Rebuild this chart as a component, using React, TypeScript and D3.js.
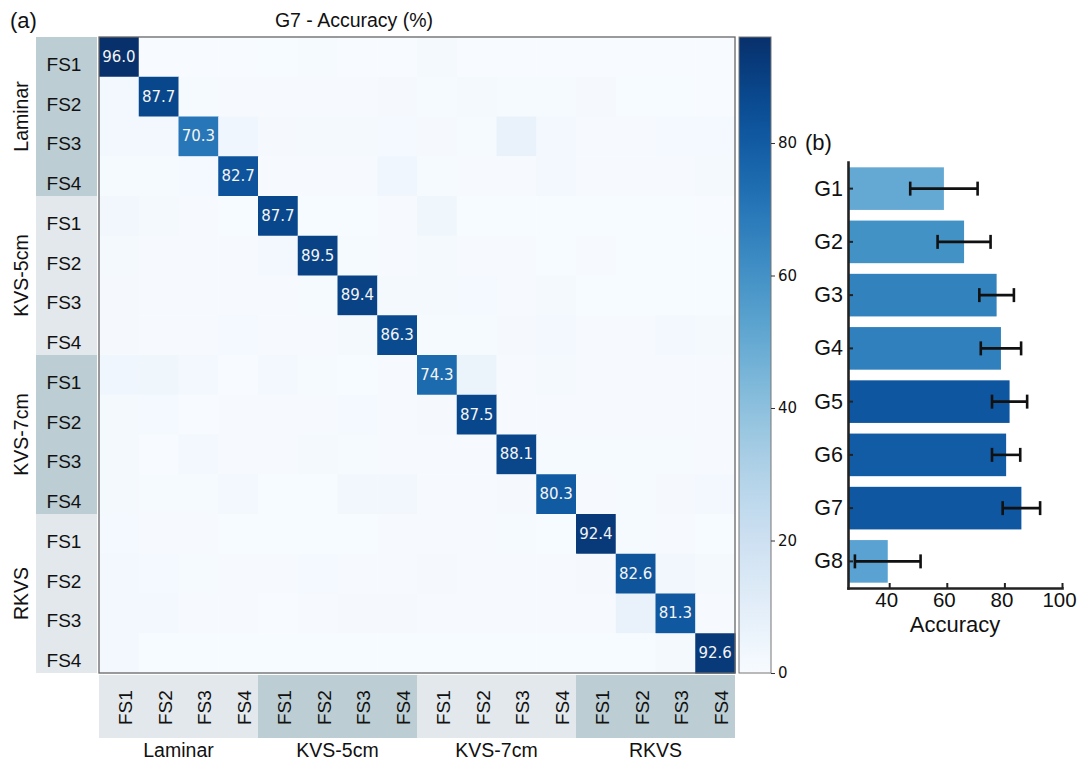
import React, { useEffect, useRef } from 'react';
import * as d3 from 'd3';

// class / flow state names
const groups = ['Laminar', 'KVS-5cm', 'KVS-7cm', 'RKVS'];
const flowStates = ['FS1', 'FS2', 'FS3', 'FS4'];

// G7 confusion matrix (%), rows = true, cols = predicted
const accuracyMatrix = [
  [96.0, 0.2, 0.1, 0.2, 0.3, 0.8, 0.2, 0.1, 1.3, 0.2, 0.1, 0.1, 0.2, 0.1, 0.1, 0.0],
  [2.4, 87.7, 0.8, 0.4, 0.5, 0.5, 0.4, 1.2, 1.0, 1.5, 0.8, 0.8, 1.2, 0.3, 0.3, 0.0],
  [2.6, 2.0, 70.3, 3.4, 1.2, 1.4, 1.6, 1.8, 1.2, 1.0, 6.8, 2.0, 0.6, 0.6, 1.8, 1.7],
  [1.0, 0.8, 1.8, 82.7, 0.5, 0.5, 0.6, 3.6, 0.8, 0.4, 0.4, 2.5, 0.6, 0.6, 0.7, 1.5],
  [3.0, 1.5, 0.5, 0.3, 87.7, 0.3, 0.3, 0.4, 4.0, 0.3, 0.3, 0.3, 0.3, 0.3, 0.3, 0.2],
  [1.5, 0.5, 0.4, 0.4, 2.5, 89.5, 0.8, 0.5, 1.5, 0.4, 0.4, 0.3, 0.4, 0.3, 0.3, 0.3],
  [1.2, 0.4, 0.4, 0.4, 0.4, 0.8, 89.4, 1.5, 1.5, 1.8, 0.6, 1.5, 0.3, 0.3, 0.3, 0.3],
  [1.2, 0.5, 0.5, 1.8, 0.4, 0.4, 1.5, 86.3, 1.0, 0.8, 1.2, 2.0, 0.4, 0.4, 2.2, 1.6],
  [3.5, 3.8, 2.5, 0.2, 2.0, 0.8, 0.3, 0.5, 74.3, 5.5, 0.4, 1.5, 0.6, 0.6, 0.5, 0.5],
  [1.5, 1.8, 0.2, 0.4, 0.6, 0.6, 1.8, 0.6, 1.2, 87.5, 0.5, 0.5, 0.5, 0.4, 0.4, 0.4],
  [1.5, 0.2, 2.5, 0.4, 0.4, 1.5, 0.8, 0.6, 0.5, 0.6, 88.1, 1.0, 0.8, 0.8, 1.0, 0.6],
  [1.5, 1.0, 1.0, 2.2, 0.3, 0.3, 3.0, 3.0, 0.6, 0.6, 1.2, 80.3, 0.6, 0.8, 1.2, 2.0],
  [1.8, 0.4, 0.4, 0.3, 0.3, 0.3, 0.3, 0.4, 0.4, 0.4, 1.0, 0.3, 92.4, 1.0, 0.4, 0.3],
  [2.2, 1.8, 1.0, 0.6, 0.6, 1.8, 0.6, 0.6, 1.2, 0.5, 0.5, 0.6, 1.2, 82.6, 2.8, 1.6],
  [2.0, 2.2, 0.6, 0.6, 0.2, 0.6, 1.2, 1.2, 0.5, 0.4, 0.4, 0.4, 0.6, 6.8, 81.3, 0.6],
  [2.6, 0.3, 0.3, 0.3, 0.3, 0.3, 0.3, 0.3, 0.3, 0.3, 0.3, 0.3, 0.3, 0.3, 1.6, 92.6],
];
const colorbarTicks = [0, 20, 40, 60, 80];

// panel (b) - mean accuracy per group with std
const barGroups = ['G1', 'G2', 'G3', 'G4', 'G5', 'G6', 'G7', 'G8'];
const barMeans = [59.0, 66.0, 77.3, 78.8, 81.8, 80.6, 85.9, 39.5];
const barStds = [11.7, 9.2, 6.0, 7.0, 6.1, 4.9, 6.5, 11.4];
const accuracyTicks = [40, 60, 80, 100];

const barColors = ['#64a9d4', '#4292c6', '#3282be', '#3080bd', '#0f56a0', '#125ca6', '#0f57a1', '#5aa2d2'];
const darkBlock = '#bccdd3';
const lightBlock = '#e2e8eb';
const sans = '"Liberation Sans", Arial, sans-serif';
const dejavu = '"DejaVu Sans", sans-serif';

export default function App() {
  const svgRef = useRef<SVGSVGElement>(null);

  useEffect(() => {
    const svg = d3.select(svgRef.current);
    svg.selectAll('*').remove();

    const n = groups.length * flowStates.length;
    const idx = d3.range(n);
    const maxVal = d3.max(accuracyMatrix.flat()) as number;

    const x = d3.scaleBand<number>().domain(idx).range([99, 735]);
    const y = d3.scaleBand<number>().domain(idx).range([37, 673]);
    const color = d3.scaleSequential(d3.interpolateBlues).domain([0, maxVal]);

    // ---- heatmap (a)
    const cells = accuracyMatrix.flatMap((row, r) => row.map((v, c) => ({ r, c, v })));
    svg.append('g')
      .selectAll('rect')
      .data(cells)
      .enter().append('rect')
      .attr('x', d => x(d.c)!)
      .attr('y', d => y(d.r)!)
      .attr('width', x.bandwidth() + 0.5)
      .attr('height', y.bandwidth() + 0.5)
      .attr('fill', d => color(d.v));

    // only the diagonal gets numbers
    svg.append('g')
      .selectAll('text')
      .data(cells.filter(d => d.r === d.c))
      .enter().append('text')
      .attr('x', d => x(d.c)! + x.bandwidth() / 2)
      .attr('y', d => y(d.r)! + y.bandwidth() / 2)
      .attr('text-anchor', 'middle')
      .attr('dominant-baseline', 'central')
      .attr('font-family', dejavu)
      .attr('font-size', 15)
      .attr('fill', '#f4f4f4')
      .text(d => d.v.toFixed(1));

    svg.append('rect')
      .attr('x', 99).attr('y', 37)
      .attr('width', 636).attr('height', 636)
      .attr('fill', 'none')
      .attr('stroke', '#666')
      .attr('stroke-width', 1.3);

    // left label blocks (dark/light alternating)
    const groupH = y.bandwidth() * flowStates.length;
    groups.forEach((g, gi) => {
      const top = y(gi * flowStates.length)!;
      svg.append('rect')
        .attr('x', 36).attr('y', top)
        .attr('width', 61).attr('height', groupH)
        .attr('fill', gi % 2 === 0 ? darkBlock : lightBlock);
      svg.append('text')
        .attr('transform', `translate(28,${top + groupH / 2}) rotate(-90)`)
        .attr('text-anchor', 'middle')
        .attr('font-family', sans)
        .attr('font-size', 19.5)
        .attr('fill', '#111')
        .text(g);

      // bottom blocks are flipped light/dark
      const left = x(gi * flowStates.length)!;
      svg.append('rect')
        .attr('x', left).attr('y', 675)
        .attr('width', groupH).attr('height', 63)
        .attr('fill', gi % 2 === 0 ? lightBlock : darkBlock);
      svg.append('text')
        .attr('x', left + groupH / 2)
        .attr('y', 757)
        .attr('text-anchor', 'middle')
        .attr('font-family', sans)
        .attr('font-size', 19.5)
        .attr('fill', '#111')
        .text(g);
    });

    idx.forEach(i => {
      const fs = flowStates[i % flowStates.length];
      svg.append('text')
        .attr('x', 64)
        .attr('y', y(i)! + y.bandwidth() / 2 + 14)
        .attr('text-anchor', 'middle')
        .attr('font-family', sans)
        .attr('font-size', 19)
        .attr('fill', '#111')
        .text(fs);
      svg.append('text')
        .attr('transform', `translate(${x(i)! + x.bandwidth() / 2 + 13},725) rotate(-90)`)
        .attr('font-family', sans)
        .attr('font-size', 19)
        .attr('fill', '#111')
        .text(fs);
    });

    svg.append('text')
      .attr('x', 354).attr('y', 27)
      .attr('text-anchor', 'middle')
      .attr('font-family', sans)
      .attr('font-size', 19.5)
      .attr('fill', '#111')
      .text('G7 - Accuracy (%)');

    svg.append('text')
      .attr('x', 10).attr('y', 28)
      .attr('font-family', sans)
      .attr('font-size', 22)
      .attr('fill', '#111')
      .text('(a)');

    // ---- colorbar
    const defs = svg.append('defs');
    const grad = defs.append('linearGradient')
      .attr('id', 'cb-grad')
      .attr('x1', 0).attr('y1', 1).attr('x2', 0).attr('y2', 0);
    d3.range(0, 1.0001, 0.05).forEach(t => {
      grad.append('stop')
        .attr('offset', `${t * 100}%`)
        .attr('stop-color', color(t * maxVal));
    });
    const cbY = d3.scaleLinear().domain([0, maxVal]).range([673, 37]);
    svg.append('rect')
      .attr('x', 739).attr('y', 37)
      .attr('width', 32).attr('height', 636)
      .attr('fill', 'url(#cb-grad)')
      .attr('stroke', '#777')
      .attr('stroke-width', 1);
    const cbAxis = svg.append('g')
      .attr('transform', 'translate(771,0)')
      .call(d3.axisRight(cbY).tickValues(colorbarTicks).tickSize(4).tickPadding(3).tickFormat(d3.format('d')));
    cbAxis.select('.domain').remove();
    cbAxis.selectAll('line').attr('stroke', '#333');
    cbAxis.selectAll('text')
      .attr('font-family', dejavu)
      .attr('font-size', 15)
      .attr('fill', '#111');

    // ---- bar chart (b)
    const xAcc = d3.scaleLinear().domain([25.7, 100]).range([848, 1062]);
    const yBar = d3.scaleBand().domain(barGroups).range([162, 588]).paddingInner(0.2).paddingOuter(0.1);

    svg.append('g')
      .selectAll('rect')
      .data(barGroups)
      .enter().append('rect')
      .attr('x', xAcc(25.7))
      .attr('y', d => yBar(d)!)
      .attr('width', (d, i) => xAcc(barMeans[i]) - xAcc(25.7))
      .attr('height', yBar.bandwidth())
      .attr('fill', (d, i) => barColors[i]);

    // error bars with caps
    const err = svg.append('g').attr('stroke', '#111').attr('stroke-width', 2.6);
    barGroups.forEach((g, i) => {
      const cy = yBar(g)! + yBar.bandwidth() / 2;
      const lo = xAcc(barMeans[i] - barStds[i]);
      const hi = xAcc(barMeans[i] + barStds[i]);
      err.append('line').attr('x1', lo).attr('x2', hi).attr('y1', cy).attr('y2', cy);
      err.append('line').attr('x1', lo).attr('x2', lo).attr('y1', cy - 7).attr('y2', cy + 7);
      err.append('line').attr('x1', hi).attr('x2', hi).attr('y1', cy - 7).attr('y2', cy + 7);
    });

    const yAx = svg.append('g')
      .attr('transform', 'translate(848,0)')
      .call(d3.axisLeft(yBar).tickSizeInner(-5).tickSizeOuter(0).tickPadding(5));
    const xAx = svg.append('g')
      .attr('transform', 'translate(0,588)')
      .call(d3.axisBottom(xAcc).tickValues(accuracyTicks).tickSizeInner(-5).tickSizeOuter(0).tickPadding(4));
    [yAx, xAx].forEach(ax => {
      ax.select('.domain').attr('stroke', '#222').attr('stroke-width', 2.6).attr('stroke-linecap', 'square');
      ax.selectAll('.tick line').attr('stroke', '#222').attr('stroke-width', 2);
      ax.selectAll('text')
        .attr('font-family', sans)
        .attr('fill', '#111');
    });
    yAx.selectAll('text').attr('font-size', 21.5);
    // labels sit a touch left of their ticks, keeps "100" on the page
    xAx.selectAll('text').attr('font-size', 20.5).attr('dx', -3);

    svg.append('text')
      .attr('x', 955).attr('y', 632)
      .attr('text-anchor', 'middle')
      .attr('font-family', sans)
      .attr('font-size', 22)
      .attr('fill', '#111')
      .text('Accuracy');

    svg.append('text')
      .attr('x', 805).attr('y', 150)
      .attr('font-family', sans)
      .attr('font-size', 22)
      .attr('fill', '#111')
      .text('(b)');
  }, []);

  return (
    <svg
      ref={svgRef}
      width={1078}
      height={760}
      style={{ position: 'absolute', left: 0, top: 0, background: '#fff' }}
    />
  );
}
